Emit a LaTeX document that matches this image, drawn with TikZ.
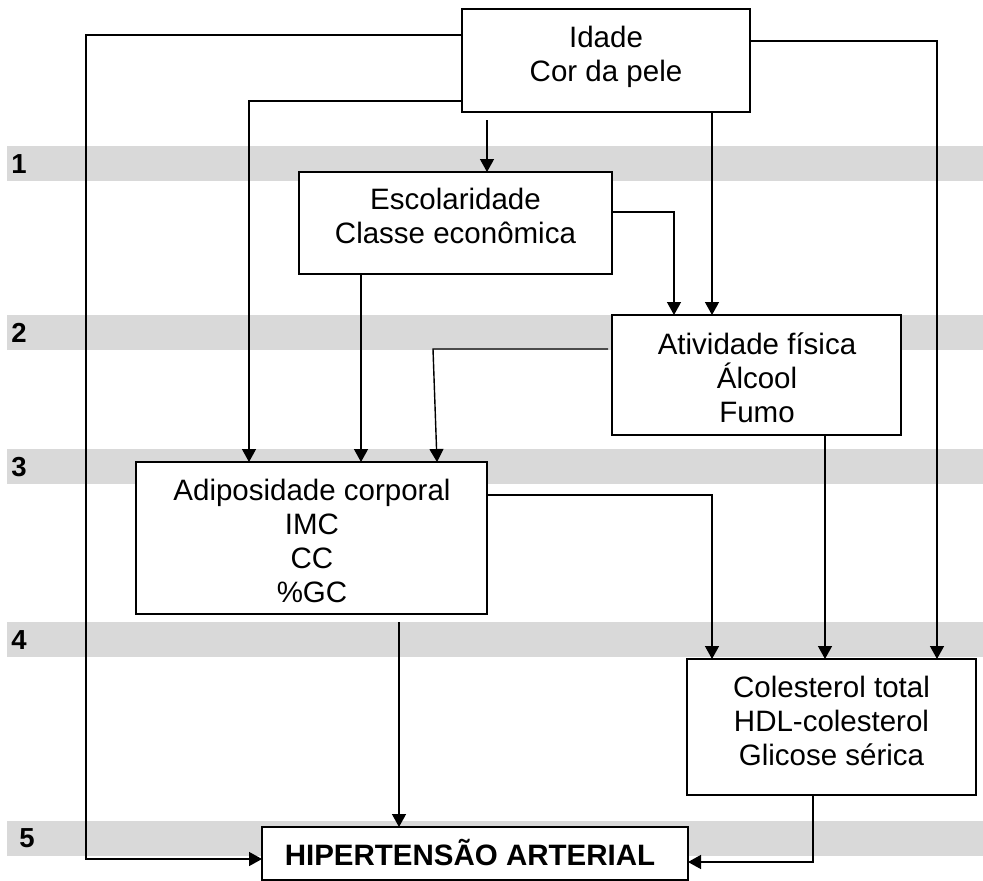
\documentclass[tikz,border=0pt]{standalone}
\usepackage{fontspec}
\setmainfont{Liberation Sans}
\usetikzlibrary{arrows.meta}
\definecolor{bandgray}{RGB}{217,217,217}
\begin{document}
\begin{tikzpicture}[x=1pt,y=-1pt,
 box/.style={draw, line width=2pt, fill=white, inner sep=0pt, outer sep=0pt},
 txt/.style={align=center, inner sep=0pt, font=\fontsize{29.5}{34}\selectfont},
 conn/.style={line width=1.4pt},
 arr/.style={conn, -{Triangle[length=13pt,width=14pt]}},
 band/.style={fill=bandgray, draw=none},
 num/.style={inner sep=0pt, font=\fontsize{27.5}{30}\selectfont\bfseries}]
\useasboundingbox (0,0) rectangle (983,881);
% bands
\path[band] (7,146) rectangle (983,181);
\path[band] (7,315) rectangle (983,350);
\path[band] (7,449) rectangle (983,484);
\path[band] (7,622) rectangle (983,657);
\path[band] (7,821) rectangle (983,856);
\node[num] (n1) at (19,164) {1};
\node[num] (n2) at (19,333) {2};
\node[num] (n3) at (19,467) {3};
\node[num] (n4) at (19,640) {4};
\node[num] (n5) at (27,838) {5};
% boxes
\node[box, minimum width=288pt, minimum height=103pt] (idade) at (606,60.5) {};
\node[box, minimum width=313pt, minimum height=102pt] (esc) at (455.5,223) {};
\node[box, minimum width=289pt, minimum height=120pt] (ativ) at (756.5,375) {};
\node[box, minimum width=351pt, minimum height=152pt] (adip) at (311.5,538) {};
\node[box, minimum width=289pt, minimum height=136pt] (col) at (831.5,727) {};
\node[box, minimum width=426pt, minimum height=53pt] (hip) at (475,853.5) {};
% texts
\node[txt] (idadeT) at (606,56.5) {Idade\\Cor da pele};
\node[txt] (escT) at (455.5,215.5) {Escolaridade\\Classe econômica};
\node[txt] (ativT) at (757,378) {Atividade física\\Álcool\\Fumo};
\node[txt] (adipT) at (312,540.5) {Adiposidade corporal\\IMC\\CC\\\%GC};
\node[txt] (colT) at (831.5,720.5) {Colesterol total\\HDL-colesterol\\Glicose sérica};
\node[txt, anchor=base, font=\fontsize{29.5}{34}\selectfont\bfseries] (hipT) at (470,865) {HIPERTENSÃO ARTERIAL};
% connectors
\draw[arr] (idade.west |- 0,35) -| (86,859) -- (hip.west |- 0,859);
\draw[arr] (idade.west |- 0,101) -| (adip.north -| 249,0);
\draw[arr] ([yshift=-8pt]idade.south -| 487,0) -- (esc.north -| 487,0);
\draw[arr] (idade.south -| 712,0) -- (ativ.north -| 712,0);
\draw[arr] (idade.east |- 0,41) -| (col.north -| 937,0);
\draw[arr] (esc.east |- 0,212) -| (ativ.north -| 674,0);
\draw[arr] (esc.south -| 361,0) -- (adip.north -| 361,0);
\draw[arr] ([xshift=-4pt]ativ.west |- 0,349) -- (433,349) -- (adip.north -| 437,0);
\draw[arr] (adip.east |- 0,495) -| (col.north -| 712,0);
\draw[arr] (ativ.south -| 825,0) -- (col.north -| 825,0);
\draw[arr] ([yshift=-8pt]adip.south -| 399,0) -- (hip.north -| 399,0);
\draw[arr] (col.south -| 813,0) |- (hip.east |- 0,862);
\end{tikzpicture}
\end{document}
